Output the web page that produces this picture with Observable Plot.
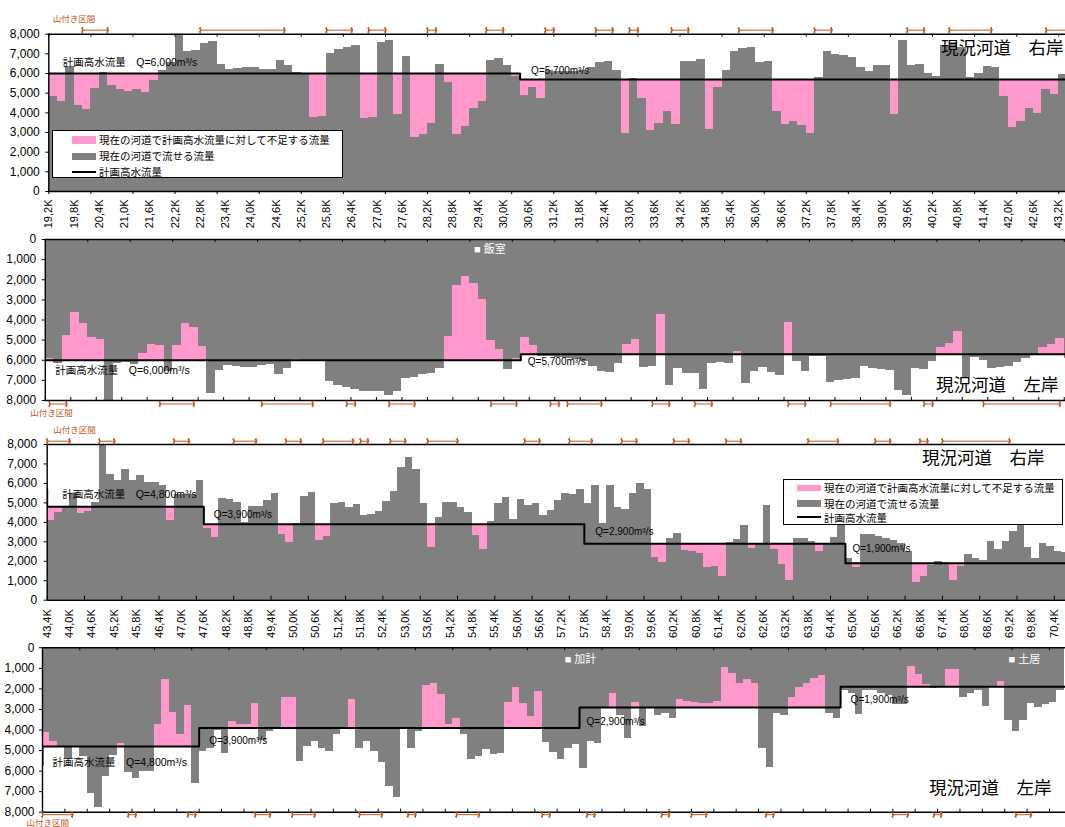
<!DOCTYPE html>
<html lang="ja">
<head>
<meta charset="utf-8">
<script src="https://cdn.jsdelivr.net/npm/d3@7"></script>
<script src="https://cdn.jsdelivr.net/npm/@observablehq/plot@0.6"></script>
<style>
html,body{margin:0;padding:0;background:#fff;}
#chart{position:relative;width:1065px;height:827px;overflow:hidden;background:#fff;font-family:"Liberation Sans","Noto Sans CJK JP",sans-serif;}
.panel{position:absolute;left:0;width:1065px;}
.legend{position:absolute;background:#fff;border:1px solid #000;box-sizing:border-box;font-size:10.5px;color:#000;font-family:"Liberation Sans","Noto Sans CJK JP",sans-serif;}
.legend .sw{position:absolute;}
.legend .lt{position:absolute;white-space:nowrap;line-height:12px;}
</style>
</head>
<body>
<div id="chart"></div>
<script>
// ---------------- DATA ----------------
const kmStep = 0.2;
const upperKmStart = 19.2;   // 19.2K ... 43.2K
const lowerKmStart = 43.4;   // 43.4K ... 70.6K

// 現況河道 右岸 (19.2K-43.2K) 現在の河道で流せる流量 (m3/s)
const rightUpper = [4830,4590,6360,4370,4170,5240,6050,5390,5190,5100,5190,5050,5640,6150,6560,8200,7120,7170,7540,7630,
  6460,6200,6250,6310,6300,6200,6200,6660,6410,6050,6000,3780,3810,7030,7220,7320,7440,3730,3760,7580,
  7680,3920,6860,2760,2900,3460,6460,5560,2900,3310,4220,4580,6660,6760,6410,5860,4880,5310,4750,6150,
  6100,6100,6100,6150,6320,6560,6610,6150,2970,5750,4750,3120,3460,4070,3410,6610,6610,6690,3170,5310,
  6150,7120,7270,7320,6560,6610,4070,3410,3560,3360,2970,5800,7120,6970,6920,6810,6310,6100,6410,6410,
  3920,7680,6410,6460,6000,5850,7400,7600,7300,5800,6000,6360,6310,4830,3250,3560,4220,3970,5190,4930,5950];
// 現況河道 左岸 (19.2K-43.2K)
const leftUpper = [5890,6180,4770,3640,4190,4880,4980,8100,6140,6090,6190,5660,5220,5280,6540,5260,4170,4370,5310,7630,
  6510,6260,6310,6360,6360,6260,6210,6710,6390,5970,6020,6020,6000,7040,7250,7350,7450,7530,7530,7530,
  7730,7530,6900,6850,6690,6660,6400,4820,2280,1840,2200,2980,5030,5460,6440,5910,4870,5260,5800,5800,
  5850,5900,5950,6050,6320,6540,6590,6140,5220,4970,6340,6290,3730,7250,6410,6640,6640,7450,6160,6090,
  6140,5560,7150,6560,6360,6590,6750,4120,6060,6560,5810,5810,7090,7020,6950,6900,6310,6410,6440,6510,
  7480,7750,6410,6460,6060,5360,5170,4570,6840,5860,5990,6410,6360,6310,6110,5910,5760,5360,5200,4920,5930];
// 現況河道 右岸 (43.4K-70.6K)
const rightLower = [4090,4520,4810,5460,4450,4570,5000,8100,6460,6150,6710,6150,6400,6030,6030,5890,4090,5430,5430,5430,
  6150,3660,3220,5220,5170,5020,4000,4810,4810,5100,5460,3390,2980,3950,5330,5530,3070,3270,4980,5020,
  4780,4910,4350,4400,4550,5070,5580,6820,7330,6710,4970,2710,4250,5020,5020,4760,4490,3320,2600,4040,
  4970,5270,4140,5170,4860,4950,4350,4610,5120,5460,5410,5680,4950,5890,3950,5890,4780,4660,5460,5980,
  5670,2180,1950,3150,3410,2550,2500,2400,1680,1730,1220,2980,3100,3840,2670,2840,4860,2600,1850,1020,
  3150,3150,3030,2500,2920,3230,3830,2130,1700,3370,3370,3270,3150,3060,2890,2500,930,1220,1780,1990,
  1950,1020,1750,2350,2130,2040,3010,2590,3010,3520,3850,2720,2160,2890,2770,2500,2430];
// 現況河道 左岸 (43.4K-70.6K)
const leftLower = [4100,4550,4830,5400,4850,5280,7100,7750,6250,5250,4650,6080,6370,6000,6000,3730,1560,3170,4200,2800,
  6580,5070,4910,4020,5150,3580,3730,3730,2720,4510,4050,3990,2430,2430,5510,4800,4540,4910,5030,4230,
  3900,2530,4880,4540,5030,5560,6730,7290,3900,4910,4050,1830,1720,2270,3730,3440,4210,5430,5280,4960,
  5200,5120,2640,1950,2690,3320,2130,4590,5080,5450,4920,4710,5860,4560,4680,2970,2240,3300,4400,2660,
  3830,2950,3300,3180,3430,2530,2600,2680,2730,2730,2600,940,1270,1720,1560,1720,4890,5810,3180,3300,
  2400,1920,1750,1480,1350,3210,3430,2080,2200,3250,2100,2100,2200,2300,2780,2780,910,1300,1800,2000,
  1950,1060,1060,2400,2240,2080,2840,1900,1640,3540,4060,3540,2690,2890,2780,2650,2080];

// 計画高水流量 (区間の開始距離と流量)
const planUpper = [{from: 19.2, q: 6000}, {from: 30.4, q: 5700}];
const planLower = [{from: 43.4, q: 4800}, {from: 47.6, q: 3900}, {from: 57.8, q: 2900}, {from: 64.8, q: 1900}];
const planLowerEntryQ = 5700;

// 山付き区間 [開始km, 終了km]
const yamaRightUpper = [[20.0,20.6],[22.8,24.8],[25.8,26.4],[26.8,27.2],[28.2,28.4],[29.6,30.0],[31.0,31.2],[32.2,32.6],[33.0,33.2],[34.0,34.4],[35.6,36.4],[37.4,37.8],[39.6,40.0],[40.6,41.6],[42.9,43.5]];
const yamaLeftUpper = [[19.3,19.7],[21.9,22.7],[24.3,25.5],[26.3,26.5],[27.3,27.9],[29.7,30.3],[31.1,31.3],[31.5,32.3],[33.5,33.9],[34.5,34.9],[36.7,37.1],[37.7,39.1],[39.9,40.1],[41.3,43.1]];
const yamaRightLower = [[43.4,44.0],[44.8,45.2],[46.8,47.2],[48.4,49.0],[49.8,50.2],[50.8,51.6],[51.8,52.0],[52.6,53.0],[53.6,54.4],[56.2,56.6],[57.4,58.0],[58.8,59.2],[60.2,60.6],[61.6,62.0],[63.8,64.6],[65.6,66.0],[66.8,67.0],[67.4,69.2]];
const yamaLeftLower = [[43.4,44.2],[45.7,45.9],[47.3,47.5],[49.1,49.5],[50.1,50.7],[51.9,52.5],[53.2,53.4],[54.5,55.1],[56.8,57.0],[58.0,58.2],[60.0,60.2],[60.8,61.2],[62.8,63.0],[66.2,66.6],[67.3,67.5],[69.5,69.9]];

// 地名
const placesLeftUpper = [{name: "飯室", km: 29.3}];
const placesLeftLower = [{name: "加計", km: 57.4}, {name: "土居", km: 69.3}];

// 目盛
const yTicks = [0,1000,2000,3000,4000,5000,6000,7000,8000];
const upperLabelKm = d3.range(41).map(i => +(upperKmStart + 0.6 * i).toFixed(1));
const lowerLabelKm = d3.range(46).map(i => +(lowerKmStart + 0.6 * i).toFixed(1));

const legendLabels = ["現在の河道で計画高水流量に対して不足する流量", "現在の河道で流せる流量", "計画高水流量"];

// ---------------- STYLE ----------------
const GRAY = "#808080", PINK = "#ff99cc", ORANGE = "#c4581c";
const FONT = "'Liberation Sans','Noto Sans CJK JP',sans-serif";
const fmtKm = d => d.toFixed(1).replace(".", ",") + "K";
const fmtQ = d3.format(",");
const vbar = {draw(ctx, size) { const h = Math.sqrt(size / Math.PI); ctx.moveTo(0, -h); ctx.lineTo(0, h); }};

function planAt(plan, km) {
  let q = plan[0].q;
  for (const s of plan) if (km >= s.from - 1e-6) q = s.q;
  return q;
}

function tickRules(vals, side, dir, len, frameH) {
  let insetTop, insetBottom;
  if (side === "bottom" && dir === "out") { insetTop = frameH; insetBottom = -len; }
  else if (side === "bottom") { insetTop = frameH - len; insetBottom = 0; }
  else if (dir === "in") { insetTop = 0; insetBottom = frameH - len; }
  else { insetTop = -len; insetBottom = frameH; }
  return Plot.ruleX(vals, {x: d => d, insetTop, insetBottom, stroke: "#000", strokeWidth: 1});
}

function buildPanel(cfg) {
  const W = 1065;
  const bars = cfg.values.map((v, i) => {
    const km = cfg.kmStart + kmStep * i;
    return {km, km2: km + kmStep, cap: v, q: planAt(cfg.plan, km)};
  });
  const deficit = bars.filter(d => d.cap < d.q);
  const pts = [];
  if (cfg.entryQ != null) pts.push([cfg.plan[0].from, cfg.entryQ]);
  cfg.plan.forEach((s, i) => {
    const end = i + 1 < cfg.plan.length ? cfg.plan[i + 1].from : cfg.kmEnd;
    pts.push([s.from, s.q], [end, s.q]);
  });
  const frameH = cfg.height - cfg.mt - cfg.mb;
  const arrowDy = cfg.arrowSide === "top" ? -cfg.arrowGap : cfg.arrowGap;
  const ends = cfg.yama.flat();

  const marks = [
    Plot.rectY(bars, {x1: "km", x2: "km2", y1: 0, y2: "cap", fill: GRAY, clip: true, shapeRendering: "crispEdges"}),
    Plot.rectY(deficit, {x1: "km", x2: "km2", y1: "cap", y2: "q", fill: PINK, clip: true, shapeRendering: "crispEdges"}),
    Plot.line(pts, {x: d => d[0], y: d => d[1], stroke: "#000", strokeWidth: 2, clip: true}),
    Plot.ruleY([0, 8000], {stroke: "#000", strokeWidth: 1.4}),
    Plot.ruleX([cfg.kmStart], {stroke: "#000", strokeWidth: 1.4}),
    Plot.axisY(yTicks, {anchor: "left", tickSize: 3, tickPadding: cfg.yPad, tickFormat: fmtQ, fontSize: 12, label: null, color: "#000"}),
    Plot.link(cfg.yama, {x1: d => d[0], x2: d => d[1], y1: 8000, y2: 8000, dy: arrowDy, stroke: ORANGE, strokeWidth: 1, markerStart: "arrow", markerEnd: "arrow"}),
    Plot.dot(ends, {x: d => d, y: 8000, dy: arrowDy, symbol: vbar, r: 3.2, stroke: ORANGE, strokeWidth: 1.2, fill: "none"}),
    Plot.text(["山付き区間"], {frameAnchor: cfg.arrowSide === "top" ? "top-left" : "bottom-left", dx: cfg.yamaDx, dy: cfg.yamaDy, textAnchor: "start", lineAnchor: "middle", fill: ORANGE, fontSize: 8.5}),
    Plot.text([cfg.title], {frameAnchor: cfg.titleAnchor, dx: cfg.titleDx, dy: cfg.titleDy, fontSize: 17.5, fill: "#000"})
  ];
  for (const t of cfg.ticks) marks.push(tickRules(t.vals, t.side, t.dir, t.len, frameH));
  if (cfg.labels) {
    marks.push(Plot.text(cfg.labels, {x: d => d, text: fmtKm, frameAnchor: "bottom", rotate: -90, textAnchor: "end", lineAnchor: "middle", dy: cfg.labelDy, fontSize: 11, fill: "#000"}));
  }
  cfg.plan.forEach((s, i) => {
    const txt = (i === 0 ? "計画高水流量\u3000" : "") + "Q=" + fmtQ(s.q) + "m³/s";
    const [dx, dy] = cfg.planLabelOffsets[i];
    marks.push(Plot.text([s], {x: "from", y: "q", text: () => txt, dx, dy, textAnchor: "start", lineAnchor: "middle", fontSize: i === 0 ? 10.5 : 10, fill: "#000"}));
  });
  if (cfg.places) {
    marks.push(Plot.text(cfg.places, {x: "km", y: 0, text: d => "■ " + d.name, dy: cfg.placeDy, textAnchor: "start", lineAnchor: "middle", fill: "#fff", fontSize: 11}));
  }

  const svg = Plot.plot({
    width: W, height: cfg.height,
    marginTop: cfg.mt, marginBottom: cfg.mb, marginLeft: cfg.left, marginRight: 0,
    x: {domain: [cfg.kmStart, cfg.kmEnd], range: [cfg.left, W], axis: null},
    y: {domain: [0, 8000], reverse: cfg.inverted, axis: null},
    style: {fontFamily: FONT, fontSize: "11px", color: "#000", background: "transparent", overflow: "hidden"},
    marks
  });
  const div = document.createElement("div");
  div.className = "panel";
  div.style.top = cfg.top + "px";
  div.style.height = cfg.height + "px";
  div.appendChild(svg);
  document.getElementById("chart").appendChild(div);
}

const every = (start, end, step) => d3.range(0, Math.floor((end - start) / step + 1e-6) + 1).map(i => +(start + step * i).toFixed(1));

buildPanel({
  top: 0, height: 232, mt: 33.7, mb: 41, left: 48.3, kmStart: upperKmStart, kmEnd: 43.36,
  values: rightUpper, inverted: false, plan: planUpper, entryQ: null,
  yama: yamaRightUpper, arrowSide: "top", arrowGap: 4, yamaDx: 4, yamaDy: -14.7, yPad: 6,
  ticks: [{vals: every(19.2, 43.36, 1.0), side: "bottom", dir: "out", len: 3}, {vals: every(19.2, 43.36, 1.0), side: "top", dir: "in", len: 3}],
  labels: upperLabelKm, labelDy: 8,
  title: "現況河道\u3000右岸", titleAnchor: "top-right", titleDx: -2, titleDy: 7.3,
  planLabelOffsets: [[14, -11], [11, -9]]
});
buildPanel({
  top: 232, height: 188, mt: 7, mb: 20, left: 44.8, kmStart: upperKmStart, kmEnd: 43.23,
  values: leftUpper, inverted: true, plan: planUpper, entryQ: null,
  yama: yamaLeftUpper, arrowSide: "bottom", arrowGap: 3.5, yamaDx: -15, yamaDy: 12.5, yPad: 6,
  ticks: [{vals: every(19.2, 43.23, 1.0), side: "top", dir: "in", len: 3}, {vals: every(19.2, 43.23, 0.6), side: "bottom", dir: "in", len: 3}],
  title: "現況河道\u3000左岸", titleAnchor: "bottom-right", titleDx: -7, titleDy: -10,
  planLabelOffsets: [[10, 10.5], [7, 8]],
  places: placesLeftUpper, placeDy: 10
});
buildPanel({
  top: 420, height: 220, mt: 24, mb: 40.3, left: 46.7, kmStart: lowerKmStart, kmEnd: 70.7,
  values: rightLower, inverted: false, plan: planLower, entryQ: planLowerEntryQ,
  yama: yamaRightLower, arrowSide: "top", arrowGap: 3.3, yamaDx: 6, yamaDy: -14.5, yPad: 7,
  ticks: [{vals: every(43.4, 70.7, 1.0), side: "bottom", dir: "in", len: 4}],
  labels: lowerLabelKm, labelDy: 9,
  title: "現況河道\u3000右岸", titleAnchor: "top-right", titleDx: -21, titleDy: 7,
  planLabelOffsets: [[15, -12], [10, -9], [11, -12], [7, -14]]
});
buildPanel({
  top: 640, height: 187, mt: 7.3, mb: 15.3, left: 42, kmStart: lowerKmStart, kmEnd: 70.83,
  values: leftLower, inverted: true, plan: planLower, entryQ: planLowerEntryQ,
  yama: yamaLeftLower, arrowSide: "bottom", arrowGap: 2.5, yamaDx: -16, yamaDy: 11.5, yPad: 5,
  ticks: [{vals: every(43.4, 70.83, 1.0), side: "top", dir: "in", len: 3}, {vals: every(43.4, 70.83, 0.6), side: "bottom", dir: "in", len: 3}],
  title: "現況河道\u3000左岸", titleAnchor: "bottom-right", titleDx: -14, titleDy: -18.7,
  planLabelOffsets: [[10, 16], [10, 13], [7, 14], [10, 13]],
  places: placesLeftLower, placeDy: 11.7
});

// ---------------- LEGENDS ----------------
function addLegend(box) {
  const lg = document.createElement("div");
  lg.className = "legend";
  Object.assign(lg.style, {left: box.left + "px", top: box.top + "px", width: box.width + "px", height: box.height + "px"});
  const items = [
    {type: "sw", color: PINK, top: box.rows[0][0], h: box.rows[0][1], text: legendLabels[0], tc: box.rows[0][2]},
    {type: "sw", color: GRAY, top: box.rows[1][0], h: box.rows[1][1], text: legendLabels[1], tc: box.rows[1][2]},
    {type: "line", color: "#000", top: box.rows[2][0], h: 2, text: legendLabels[2], tc: box.rows[2][2]}
  ];
  for (const it of items) {
    const sw = document.createElement("div");
    sw.className = "sw";
    Object.assign(sw.style, {left: box.swLeft + "px", top: it.top + "px", width: "24px", height: it.h + "px", background: it.color});
    lg.appendChild(sw);
    const t = document.createElement("div");
    t.className = "lt";
    t.textContent = it.text;
    Object.assign(t.style, {left: box.textLeft + "px", top: (it.tc - 6) + "px"});
    lg.appendChild(t);
  }
  document.getElementById("chart").appendChild(lg);
}
addLegend({left: 52, top: 130, width: 291, height: 48, swLeft: 19, textLeft: 46, rows: [[5, 7.5, 9], [22, 7, 25], [40, 2, 41]]});
addLegend({left: 783, top: 479, width: 280, height: 46, swLeft: 13, textLeft: 40, rows: [[5, 6, 8], [20, 7, 24], [36, 2, 38]]});
</script>
</body>
</html>
